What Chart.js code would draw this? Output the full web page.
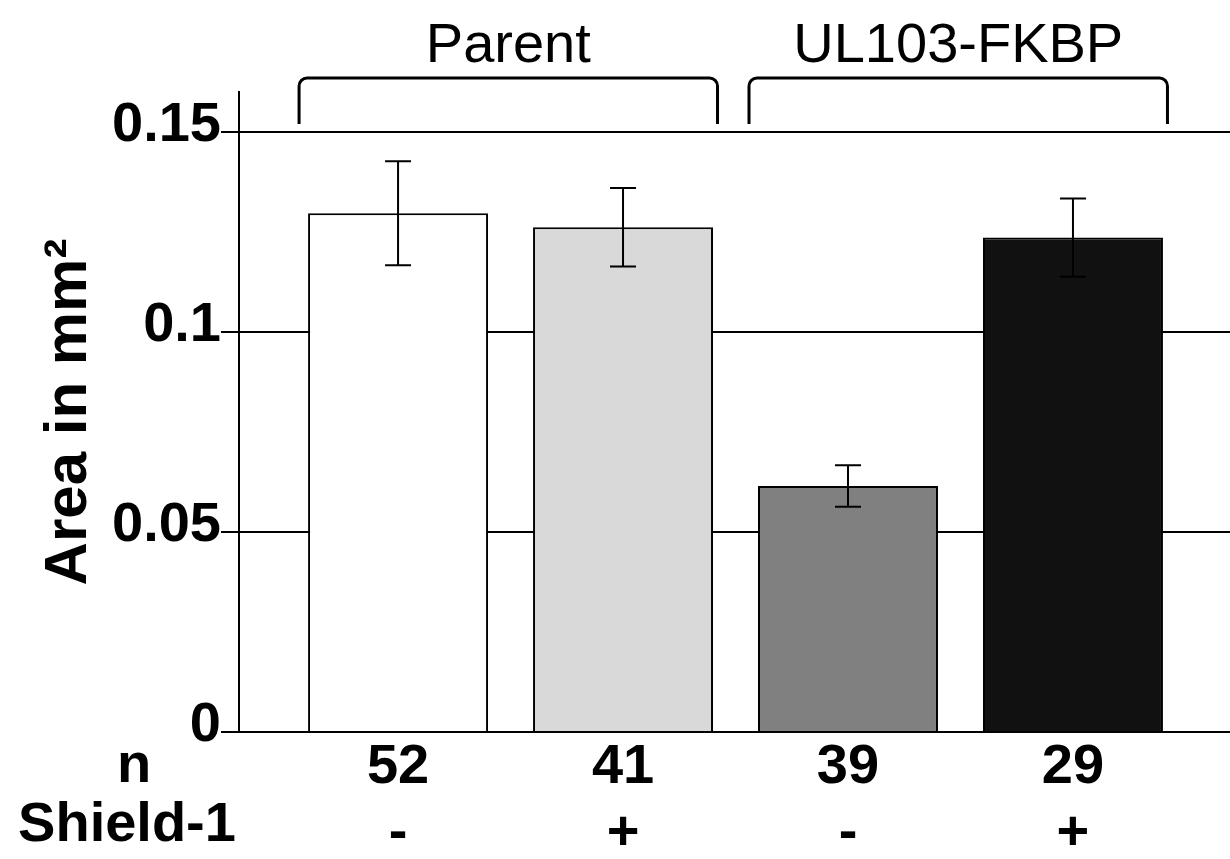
<!DOCTYPE html>
<html>
<head>
    <title>Area in mm2 - Parent vs UL103-FKBP</title>
    <script src="https://cdn.jsdelivr.net/npm/chart.js"></script>
    <style>
        html, body { margin: 0; padding: 0; background: #fff; }
        #wrap { width: 1230px; height: 859px; }
    </style>
</head>
<body>
    <div id="wrap"><canvas id="barChart"></canvas></div>

    <script>
        // values
        const positions = [0, 1, 2, 3];
        const areaMeans = [0.1297, 0.1262, 0.0615, 0.1236];
        const areaErrors = [0.0130, 0.0098, 0.0052, 0.0098];
        const barColors = ['#ffffff', '#d9d9d9', '#808080', '#111111'];
        const nCounts = ['52', '41', '39', '29'];
        const shieldMarks = ['-', '+', '-', '+'];
        const yTicks = [0, 0.05, 0.1, 0.15];

        // bracket groups over the bars
        const groupLabels = ['Parent', 'UL103-FKBP'];
        const groupFrom = [-0.44, 1.56];
        const groupTo = [1.42, 3.42];

        const FONT = '"Liberation Sans", Arial, sans-serif';
        const ROW_LH = 66;

        // error bars, brackets and row headers
        const extrasPlugin = {
            id: 'extras',
            afterDatasetsDraw(chart) {
                const ctx = chart.ctx;
                const xs = chart.scales.x;
                const ys = chart.scales.y;
                ctx.save();
                ctx.strokeStyle = '#000';
                ctx.lineWidth = 2;
                positions.forEach((p, i) => {
                    const x = xs.getPixelForValue(p);
                    const hi = ys.getPixelForValue(areaMeans[i] + areaErrors[i]);
                    const lo = ys.getPixelForValue(areaMeans[i] - areaErrors[i]);
                    ctx.beginPath();
                    ctx.moveTo(x, hi); ctx.lineTo(x, lo);
                    ctx.moveTo(x - 13, hi); ctx.lineTo(x + 13, hi);
                    ctx.moveTo(x - 13, lo); ctx.lineTo(x + 13, lo);
                    ctx.stroke();
                });
                ctx.restore();
            },
            afterDraw(chart) {
                const ctx = chart.ctx;
                const xs = chart.scales.x;
                const ys = chart.scales.y;
                ctx.save();

                // brackets
                const top = ys.getPixelForValue(0.1635);
                const bottom = ys.getPixelForValue(0.152);
                ctx.strokeStyle = '#000';
                ctx.lineWidth = 3;
                ctx.fillStyle = '#000';
                ctx.font = '56px ' + FONT;
                ctx.textAlign = 'center';
                ctx.textBaseline = 'alphabetic';
                groupLabels.forEach((label, i) => {
                    const x1 = xs.getPixelForValue(groupFrom[i]);
                    const x2 = xs.getPixelForValue(groupTo[i]);
                    ctx.beginPath();
                    ctx.moveTo(x1, bottom);
                    ctx.arcTo(x1, top, x2, top, 8);
                    ctx.arcTo(x2, top, x2, bottom, 8);
                    ctx.lineTo(x2, bottom);
                    ctx.stroke();
                    ctx.fillText(label, (x1 + x2) / 2, top - 16);
                });

                // row headers under the axis
                const y1 = xs.top - 5 + ROW_LH / 2;
                ctx.font = 'bold 56px ' + FONT;
                ctx.textBaseline = 'middle';
                ctx.fillText('n', 134, y1 + 7);
                ctx.fillText('Shield-1', 127, y1 + ROW_LH);
                ctx.restore();
            }
        };

        const ctx = document.getElementById('barChart').getContext('2d');
        new Chart(ctx, {
            type: 'bar',
            data: {
                datasets: [{
                    data: positions.map((p, i) => ({ x: p, y: areaMeans[i] })),
                    backgroundColor: barColors,
                    borderColor: '#000',
                    borderWidth: 2,
                    barPercentage: 0.8,
                    categoryPercentage: 1.0
                }]
            },
            options: {
                responsive: true,
                maintainAspectRatio: false,
                animation: false,
                layout: { padding: { top: 92, left: 0, right: 0, bottom: 0 } },
                plugins: {
                    legend: { display: false },
                    tooltip: { enabled: false }
                },
                scales: {
                    x: {
                        type: 'linear',
                        offset: false,
                        min: -0.707,
                        max: 3.698,
                        grid: { display: false, offset: false },
                        border: { display: false },
                        afterBuildTicks: axis => {
                            axis.ticks = positions.map(v => ({ value: v }));
                        },
                        afterFit: axis => { axis.height = 127; },
                        ticks: {
                            autoSkip: false,
                            maxRotation: 0,
                            padding: -5,
                            color: '#000',
                            font: { family: FONT, size: 56, weight: 'bold', lineHeight: ROW_LH / 56 },
                            callback: (v) => [nCounts[v], shieldMarks[v]]
                        }
                    },
                    y: {
                        min: 0,
                        max: 0.16,
                        afterBuildTicks: axis => {
                            axis.ticks = yTicks.map(v => ({ value: v }));
                        },
                        afterFit: axis => { axis.width = 239; },
                        grid: { color: '#000', lineWidth: 2, tickLength: 18 },
                        border: { color: '#000', width: 2 },
                        ticks: {
                            padding: 0,
                            labelOffset: -6,
                            color: '#000',
                            font: { family: FONT, size: 56, weight: 'bold' },
                            callback: v => String(v)
                        },
                        title: {
                            display: true,
                            text: 'Area in mm²',
                            color: '#000',
                            padding: { top: 33, bottom: 0 },
                            font: { family: FONT, size: 60, weight: 'bold' }
                        }
                    }
                }
            },
            plugins: [extrasPlugin]
        });
    </script>
</body>
</html>
